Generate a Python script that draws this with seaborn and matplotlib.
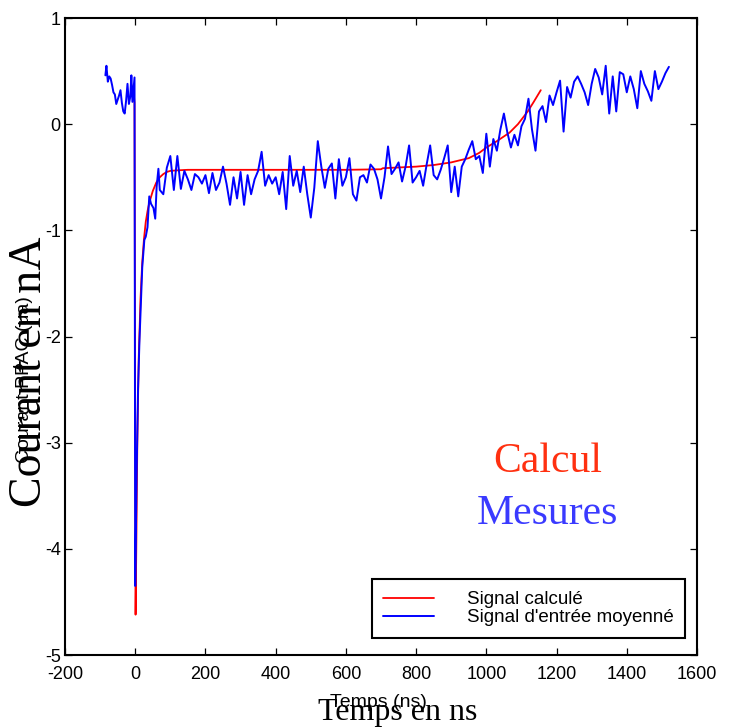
import numpy as np
import pandas as pd
import matplotlib
matplotlib.use("Agg")
import matplotlib.pyplot as plt
import seaborn as sns

# signal calculé (courbe lisse)
t_calc = [-12, -8, -4, -2, 1, 3, 6, 10, 15, 20, 25, 30, 35, 40, 50, 60, 70, 80, 90, 100,
          120, 150, 200, 300, 400, 500, 600, 700, 705, 800, 850, 900, 950, 980, 1000, 1030,
          1066, 1090, 1118, 1135, 1155]
v_calc = [0.38, 0.33, 0.28, 0.2, -4.62, -4.0, -3.0, -2.2, -1.65, -1.3, -1.08, -0.92, -0.82,
          -0.74, -0.63, -0.55, -0.50, -0.47, -0.45, -0.44, -0.435, -0.43, -0.43, -0.43, -0.43,
          -0.43, -0.43, -0.425, -0.415, -0.40, -0.385, -0.36, -0.32, -0.27, -0.22, -0.16,
          -0.08, 0.0, 0.12, 0.21, 0.32]

# signal mesuré : début (autour du pic) puis échantillons tous les 10 ns
t_head = [-85, -82, -78, -74, -70, -66, -62, -58, -54, -50, -46, -42, -38, -34, -30, -26,
          -22, -18, -14, -11, -8, -5, -2, 0, 4, 8, 12, 16, 20, 26, 30, 35, 40, 45, 52, 57,
          61, 66]
v_head = [0.46, 0.55, 0.40, 0.45, 0.43, 0.37, 0.30, 0.28, 0.19, 0.23, 0.27, 0.32, 0.20,
          0.12, 0.10, 0.22, 0.38, 0.19, 0.26, 0.46, 0.21, 0.33, 0.44, -4.35, -3.3, -2.5,
          -2.05, -1.7, -1.35, -1.09, -1.06, -0.97, -0.68, -0.75, -0.79, -0.89, -0.59, -0.42]
v_tail = [-0.62, -0.66, -0.41, -0.30, -0.62, -0.30, -0.61, -0.44, -0.52, -0.62,
          -0.47, -0.50, -0.56, -0.48, -0.65, -0.46, -0.62, -0.55, -0.40, -0.56,
          -0.76, -0.50, -0.70, -0.45, -0.76, -0.48, -0.66, -0.52, -0.44, -0.26,
          -0.58, -0.48, -0.56, -0.50, -0.66, -0.45, -0.80, -0.30, -0.58, -0.44,
          -0.64, -0.40, -0.66, -0.88, -0.60, -0.16, -0.40, -0.60, -0.42, -0.37,
          -0.70, -0.33, -0.58, -0.50, -0.32, -0.66, -0.72, -0.50, -0.48, -0.55,
          -0.38, -0.42, -0.52, -0.70, -0.50, -0.21, -0.47, -0.42, -0.36, -0.54,
          -0.40, -0.20, -0.55, -0.50, -0.44, -0.58, -0.38, -0.20, -0.48, -0.52,
          -0.43, -0.32, -0.20, -0.64, -0.40, -0.68, -0.40, -0.33, -0.24, -0.16,
          -0.33, -0.30, -0.46, -0.09, -0.40, -0.14, -0.25, -0.05, 0.10, -0.08,
          -0.22, -0.10, -0.20, -0.02, 0.05, 0.24, -0.05, -0.25, 0.12, 0.17,
          0.02, 0.27, 0.18, 0.30, 0.41, -0.07, 0.35, 0.25, 0.40, 0.45,
          0.38, 0.30, 0.18, 0.38, 0.52, 0.44, 0.28, 0.55, 0.10, 0.45,
          0.12, 0.49, 0.47, 0.30, 0.45, 0.33, 0.15, 0.50, 0.38, 0.31,
          0.22, 0.50, 0.33, 0.40, 0.48, 0.54]
t_tail = list(range(70, 1521, 10))

x_ticks = [-200, 0, 200, 400, 600, 800, 1000, 1200, 1400, 1600]
y_ticks = [-5, -4, -3, -2, -1, 0, 1]

df_calc = pd.DataFrame({"t": t_calc, "v": v_calc})
df_mes = pd.DataFrame({"t": t_head + t_tail, "v": v_head + v_tail})

sns.set_style("ticks")
plt.rcParams["font.family"] = ["Liberation Sans", "DejaVu Sans"]
plt.rcParams["axes.unicode_minus"] = False
plt.rcParams["text.color"] = "black"

fig = plt.figure(figsize=(7.31, 7.27), dpi=100)
ax = fig.add_axes([65 / 731, 72 / 727, 632 / 731, 637 / 727])

sns.lineplot(data=df_calc, x="t", y="v", ax=ax, color="#ff0000", lw=1.3,
             estimator=None, sort=False, label="Signal calculé")
sns.lineplot(data=df_mes, x="t", y="v", ax=ax, color="#0000ff", lw=1.4,
             estimator=None, sort=False, label="Signal d'entrée moyenné")

ax.set_xlim(-200, 1600)
ax.set_ylim(-5, 1)
ax.set_xticks(x_ticks)
ax.set_yticks(y_ticks)
ax.set_xlabel("")
ax.set_ylabel("")
for s in ax.spines.values():
    s.set_visible(True)
    s.set_linewidth(1.5)
    s.set_color("black")
ax.tick_params(direction="in", top=True, right=True, length=5, width=0.9,
               labelsize=13, colors="black")
ax.tick_params(axis="x", pad=8)
ax.tick_params(axis="y", pad=3)

leg = ax.legend(loc="lower right", bbox_to_anchor=(0.981, 0.027), borderaxespad=0,
                fontsize=13.5, handlelength=2.7, handletextpad=1.75, borderpad=0.62,
                labelspacing=0.05, fancybox=False, framealpha=1, edgecolor="black")
leg.get_frame().set_linewidth(1.5)
for txt in leg.get_texts():
    txt.set_color("black")

serif = ["Liberation Serif", "DejaVu Serif"]
ax.text(0.764, 0.303, "Calcul", transform=ax.transAxes, ha="center", va="center",
        fontsize=30, color="#ff3010", family=serif)
ax.text(0.764, 0.222, "Mesures", transform=ax.transAxes, ha="center", va="center",
        fontsize=30, color="#3a3aff", family=serif)

# libellés superposés (deux versions des titres d'axes)
fig.text(25 / 731, 1 - 380 / 727, "Courant PPAC (ua)", rotation=90, ha="center",
         va="center", fontsize=14, color="black")
fig.text(30 / 731, 1 - 372 / 727, "Courant en nA", rotation=90, ha="center",
         va="center", fontsize=33, family=serif, color="black")
fig.text(378 / 731, 1 - 707 / 727, "Temps (ns)", ha="center", va="baseline",
         fontsize=14, color="black")
fig.text(398 / 731, 1 - 720 / 727, "Temps en ns", ha="center", va="baseline",
         fontsize=23, family=serif, color="black")

fig.savefig("out.png", dpi=100)
